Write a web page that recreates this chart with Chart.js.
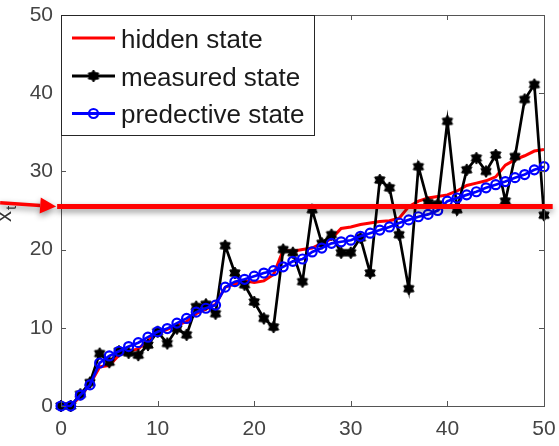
<!DOCTYPE html>
<html>
<head>
<meta charset="utf-8">
<script src="https://cdn.jsdelivr.net/npm/chart.js@4.4.1/dist/chart.umd.min.js"></script>
<style>
  html, body { margin: 0; padding: 0; background: #ffffff; }
  #wrap { width: 559px; height: 446px; }
</style>
</head>
<body>
<div id="wrap"><canvas id="c" width="559" height="446"></canvas></div>
<script>
// ---- data ----
const steps = [0,1,2,3,4,5,6,7,8,9,10,11,12,13,14,15,16,17,18,19,20,21,22,23,24,25,26,27,28,29,30,31,32,33,34,35,36,37,38,39,40,41,42,43,44,45,46,47,48,49,50];
const hiddenState = [0,0,1.2,2.8,5.0,5.2,6.5,7.0,7.3,8.4,9.3,9.8,10.3,10.8,11.8,12.4,13.0,15.2,15.6,16.0,15.8,16.0,16.8,19.9,19.8,20.0,20.2,20.8,21.4,22.7,22.9,23.2,23.4,23.6,23.7,24.0,25.5,26.2,26.6,26.8,27.0,27.5,28.2,28.5,28.8,29.3,30.8,31.5,32.0,32.6,32.8];
const measuredState = [0,0,1.5,3.0,6.7,5.6,7.0,6.8,6.5,7.8,9.5,8.0,9.9,9.1,12.7,13.0,11.8,20.5,17.0,15.5,13.3,11.2,10.1,20.0,19.6,15.9,25.1,20.8,21.9,19.6,19.6,21.5,17.0,28.9,27.9,21.9,15.0,30.6,26.0,25.8,36.4,25.1,30.2,31.7,30.0,32.1,26.2,31.9,39.2,41.1,24.4];
const predictiveState = [0,0,1.4,2.7,5.5,6.4,7.0,7.6,8.1,8.8,9.5,9.9,10.6,11.2,12.0,12.5,12.9,15.2,15.9,16.2,16.6,17.0,17.3,17.8,18.5,18.8,19.7,20.2,20.8,21.0,21.2,21.7,22.1,22.5,22.9,23.4,23.8,24.2,24.5,25.0,26.2,26.6,27.0,27.4,27.9,28.3,28.7,29.2,29.6,30.2,30.6];
const seriesNames = ['hidden state', 'measured state', 'predective state'];
const axisTicks = [0, 10, 20, 30, 40, 50];
const yAxisLabel = ['x', 't'];
// highlighted level (thick red line with arrow), in data units
const highlightLevel = 25.5;
const highlightSpan = [-0.4, 50.9];
const arrowFrom = [-6.3, 26.0];
const arrowTo = [-0.5, 25.5];

const toPts = (ys) => steps.map((x, i) => ({ x: x, y: ys[i] }));

// filled hexagram marker
function makeStar(r, color) {
  const s = Math.ceil(r * 2 + 2);
  const cv = document.createElement('canvas');
  cv.width = s; cv.height = s;
  const g = cv.getContext('2d');
  g.translate(s / 2, s / 2);
  g.beginPath();
  for (let i = 0; i < 12; i++) {
    const a = -Math.PI / 2 + i * Math.PI / 6;
    const rr = (i % 2 === 0) ? r : r * 0.62;
    const px = rr * Math.cos(a), py = rr * Math.sin(a);
    if (i === 0) g.moveTo(px, py); else g.lineTo(px, py);
  }
  g.closePath();
  g.fillStyle = color;
  g.fill();
  g.lineWidth = 1;
  g.strokeStyle = color;
  g.stroke();
  return cv;
}
const starMarker = makeStar(6, '#000000');

const AXIS_COLOR = '#555555';
const TICK_TEXT = '#444444';
const FONT = 'Liberation Sans, Arial, sans-serif';

const extrasPlugin = {
  id: 'extras',
  afterDraw(chart) {
    const ctx = chart.ctx;
    const a = chart.chartArea;
    const xs = chart.scales.x, ys = chart.scales.y;

    // top/right box edges
    ctx.save();
    ctx.strokeStyle = AXIS_COLOR;
    ctx.lineWidth = 1;
    ctx.beginPath();
    ctx.moveTo(Math.round(a.left) + 0.5, Math.round(a.top) + 0.5);
    ctx.lineTo(Math.round(a.right) + 0.5, Math.round(a.top) + 0.5);
    ctx.lineTo(Math.round(a.right) + 0.5, Math.round(a.bottom) + 0.5);
    ctx.stroke();
    // inward ticks on all four sides
    const tl = 5;
    ctx.beginPath();
    axisTicks.forEach(v => {
      const px = Math.round(xs.getPixelForValue(v)) + 0.5;
      ctx.moveTo(px, a.bottom); ctx.lineTo(px, a.bottom - tl);
      ctx.moveTo(px, a.top); ctx.lineTo(px, a.top + tl);
      const py = Math.round(ys.getPixelForValue(v)) + 0.5;
      ctx.moveTo(a.left, py); ctx.lineTo(a.left + tl, py);
      ctx.moveTo(a.right, py); ctx.lineTo(a.right - tl, py);
    });
    ctx.stroke();
    ctx.restore();

    // legend box
    const ds = chart.data.datasets;
    const lx = a.left, ly = a.top, lw = 253, lh = 120;
    ctx.save();
    ctx.fillStyle = '#ffffff';
    ctx.fillRect(lx, ly, lw, lh);
    ctx.strokeStyle = '#262626';
    ctx.lineWidth = 1;
    ctx.strokeRect(Math.round(lx) + 0.5, Math.round(ly) + 0.5, lw, lh);
    const rowY = [38, 76, 113.5];
    ctx.font = '26px ' + FONT;
    ctx.textBaseline = 'alphabetic';
    ctx.textAlign = 'left';
    [0, 1, 2].forEach(i => {
      const d = ds[i];
      const y = ly + rowY[i] - 15;
      const x0 = lx + 11, x1 = lx + 54, xm = (x0 + x1) / 2;
      ctx.strokeStyle = d.borderColor;
      ctx.lineWidth = 3;
      ctx.beginPath(); ctx.moveTo(x0, y); ctx.lineTo(x1, y); ctx.stroke();
      if (i === 1) {
        ctx.drawImage(starMarker, xm - starMarker.width / 2, y - starMarker.height / 2);
      } else if (i === 2) {
        ctx.beginPath(); ctx.arc(xm, y, 4.5, 0, Math.PI * 2);
        ctx.lineWidth = 2.2; ctx.strokeStyle = d.pointBorderColor; ctx.stroke();
      }
      ctx.fillStyle = '#1a1a1a';
      ctx.fillText(d.label, lx + 60, y + 9.5);
    });
    ctx.restore();

    // y axis label (rotated)
    ctx.save();
    ctx.fillStyle = '#333333';
    ctx.translate(11, 222);
    ctx.rotate(-Math.PI / 2);
    ctx.font = '22px ' + FONT;
    ctx.textAlign = 'left';
    ctx.textBaseline = 'alphabetic';
    ctx.fillText(yAxisLabel[0], 0, 0);
    const w = ctx.measureText(yAxisLabel[0]).width;
    ctx.font = '15px ' + FONT;
    ctx.fillText(yAxisLabel[1], w + 1, 5);
    ctx.restore();

    // highlighted level line + arrow
    ctx.save();
    ctx.shadowColor = 'rgba(0,0,0,0.45)';
    ctx.shadowBlur = 6;
    ctx.shadowOffsetY = 3;
    ctx.strokeStyle = '#ff0000';
    ctx.fillStyle = '#ff0000';
    const hy = ys.getPixelForValue(highlightLevel);
    ctx.lineWidth = 5;
    ctx.beginPath();
    ctx.moveTo(xs.getPixelForValue(highlightSpan[0]), hy);
    ctx.lineTo(xs.getPixelForValue(highlightSpan[1]), hy);
    ctx.stroke();
    const ax0 = xs.getPixelForValue(arrowFrom[0]), ay0 = ys.getPixelForValue(arrowFrom[1]);
    const ax1 = xs.getPixelForValue(arrowTo[0]), ay1 = ys.getPixelForValue(arrowTo[1]);
    const ang = Math.atan2(ay1 - ay0, ax1 - ax0);
    const hl = 16, hw = 8;
    const bx = ax1 - hl * Math.cos(ang), by = ay1 - hl * Math.sin(ang);
    ctx.lineWidth = 3.5;
    ctx.beginPath(); ctx.moveTo(ax0, ay0); ctx.lineTo(bx, by); ctx.stroke();
    ctx.beginPath();
    ctx.moveTo(ax1, ay1);
    ctx.lineTo(bx + hw * Math.sin(ang), by - hw * Math.cos(ang));
    ctx.lineTo(bx - hw * Math.sin(ang), by + hw * Math.cos(ang));
    ctx.closePath();
    ctx.fill();
    ctx.restore();
  }
};

new Chart(document.getElementById('c'), {
  type: 'line',
  data: {
    datasets: [
      {
        label: seriesNames[0], data: toPts(hiddenState),
        borderColor: '#ff0000', borderWidth: 3, pointRadius: 0,
        tension: 0, order: 3, clip: false
      },
      {
        label: seriesNames[1], data: toPts(measuredState),
        borderColor: '#000000', borderWidth: 2.7,
        pointStyle: starMarker, pointRadius: 6,
        tension: 0, order: 2, clip: false
      },
      {
        label: seriesNames[2], data: toPts(predictiveState),
        borderColor: '#0000ff', borderWidth: 2.7,
        pointStyle: 'circle', pointRadius: 4.5, pointBorderWidth: 2.2,
        pointBorderColor: '#0000ff', pointBackgroundColor: 'rgba(255,255,255,0)',
        tension: 0, order: 1, clip: false
      }
    ]
  },
  options: {
    responsive: false,
    animation: false,
    events: [],
    layout: { padding: { top: 15, right: 15, left: 0, bottom: 0 } },
    plugins: { legend: { display: false }, tooltip: { enabled: false }, title: { display: false } },
    scales: {
      x: {
        type: 'linear', min: 0, max: 50,
        afterFit(s) { s.height = 40; s.paddingLeft = 0; s.paddingRight = 0; },
        afterBuildTicks(s) { s.ticks = axisTicks.map(v => ({ value: v })); },
        grid: { display: true, drawOnChartArea: false, drawTicks: false },
        border: { display: true, color: AXIS_COLOR, width: 1 },
        ticks: { color: TICK_TEXT, font: { family: FONT, size: 21 }, padding: 11, maxRotation: 0 }
      },
      y: {
        type: 'linear', min: 0, max: 50,
        afterFit(s) { s.width = 61; s.paddingTop = 0; s.paddingBottom = 0; },
        afterBuildTicks(s) { s.ticks = axisTicks.map(v => ({ value: v })); },
        grid: { display: true, drawOnChartArea: false, drawTicks: false },
        border: { display: true, color: AXIS_COLOR, width: 1 },
        ticks: { color: TICK_TEXT, font: { family: FONT, size: 21 }, padding: 8 }
      }
    }
  },
  plugins: [extrasPlugin]
});
</script>
</body>
</html>
